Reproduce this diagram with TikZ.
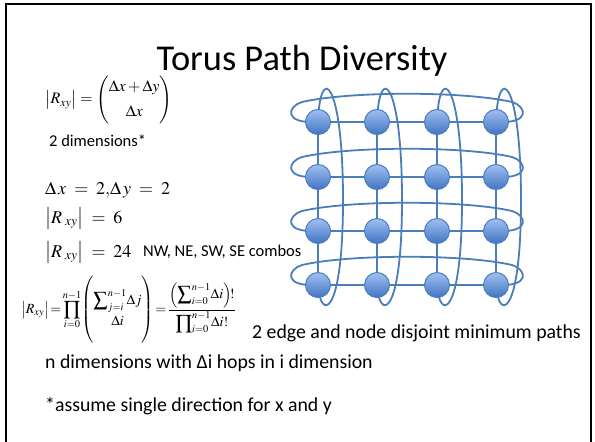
\documentclass[tikz,border=0pt]{standalone}
\usepackage{amsmath}
\usepackage{mathptmx}
\usepackage{fontspec}
\setmainfont{Carlito}
\definecolor{torusblue}{RGB}{74,126,187}
\definecolor{nodetop}{RGB}{160,192,240}
\definecolor{nodebottom}{RGB}{66,116,196}
\usetikzlibrary{backgrounds}

\begin{document}
\begin{tikzpicture}[x=1pt, y=-1pt,
  titletext/.style={font=\fontsize{36.4}{40}\selectfont, anchor=base, inner sep=0},
  bodytext/.style={font=\fontsize{19.8}{24}\selectfont, anchor=base west, inner sep=0},
  smalltext/.style={font=\fontsize{16.5}{20}\selectfont, anchor=base west, inner sep=0},
  eqn/.style={font=\fontsize{18}{21}\selectfont, anchor=base west, inner sep=0},
  torusnode/.style={circle, draw=torusblue, line width=1pt, minimum size=25pt, inner sep=0, top color=nodetop, bottom color=nodebottom},
  link/.style={draw=torusblue, line width=1.8pt}
]
  \useasboundingbox (0,0) rectangle (595,442);
  \draw[line width=2pt] (6,442) -- (6,4) -- (591,4) -- (591,442);

  \node[titletext] (title) at (302,70) {Torus Path Diversity};

  % formulas on the left
  \node[eqn, font=\fontsize{16}{19}\selectfont, anchor=west] (rbinom) at (45,101)
    {$\bigl|R_{xy}\bigr| = \left(\vrule height 22pt depth 22pt width 0pt
      \begin{matrix}\Delta x+\Delta y\\[6pt]\Delta x\end{matrix}\right)$};
  \node[smalltext] (twodim) at (49,146) {2 dimensions*};
  \node[eqn] (deltas) at (45,194) {$\Delta\,x \;=\; 2,\!\Delta\,y \;=\; 2$};
  \node[eqn] (rsix) at (45,223) {$\bigl|R_{\;xy}\bigr| \;=\; 6$};
  \node[eqn] (rtwentyfour) at (45,257) {$\bigl|R_{\;xy}\bigr| \;=\; 24$};
  \node[smalltext] (combos) at (143,256) {NW, NE, SW, SE combos};
  \node[eqn, font=\fontsize{14}{17}\selectfont, anchor=west] (rgeneral) at (21,310)
    {$\displaystyle \bigl|R_{xy}\bigr|\!=\!\prod_{i=0}^{n-1}\!\left(\vrule height 29pt depth 29pt width 0pt
      \begin{matrix}\displaystyle\sum\nolimits_{j=i}^{n-1}\!\Delta j\\[4pt] \Delta i\end{matrix}\right)\!=\!
      \frac{\displaystyle\left(\sum\nolimits_{i=0}^{n-1}\!\Delta i\right)\!!}
           {\displaystyle\prod\nolimits_{i=0}^{n-1}\!\Delta i!}$};

  \node[bodytext] (disjoint) at (252,338) {2 edge and node disjoint minimum paths};
  \node[bodytext] (ndim) at (45,368) {n dimensions with Δi hops in i dimension};
  \node[bodytext] (assume) at (45,411) {*assume single direction for x and y};

  % torus grid
  \foreach \cx [count=\i] in {318,377,437,496}
    \foreach \ry [count=\j] in {122,177,231,285}
      \node[torusnode] (n\i\j) at (\cx,\ry) {};

  \begin{scope}[on background layer]
    \foreach \i in {1,...,4} {
      \foreach \j/\k in {1/2,2/3,3/4} {
        \draw[link] (n\i\j) -- (n\i\k);
        \draw[link] (n\j\i) -- (n\k\i);
      }
      % wraparound links
      \draw[link] (n1\i.center) .. controls +(-36,2) and +(-14,4) .. ++(-16,-20)
        .. controls +(48,-11) and +(-48,-11) .. ++(210,0)
        .. controls +(14,4) and +(36,2) .. (n4\i.center);
      \draw[link] (n\i1.center) .. controls +(2,-60) and +(0,-120) .. ++(25,78)
        .. controls +(0,120) and +(2,35) .. (n\i4.center);
    }
  \end{scope}
\end{tikzpicture}
\end{document}
